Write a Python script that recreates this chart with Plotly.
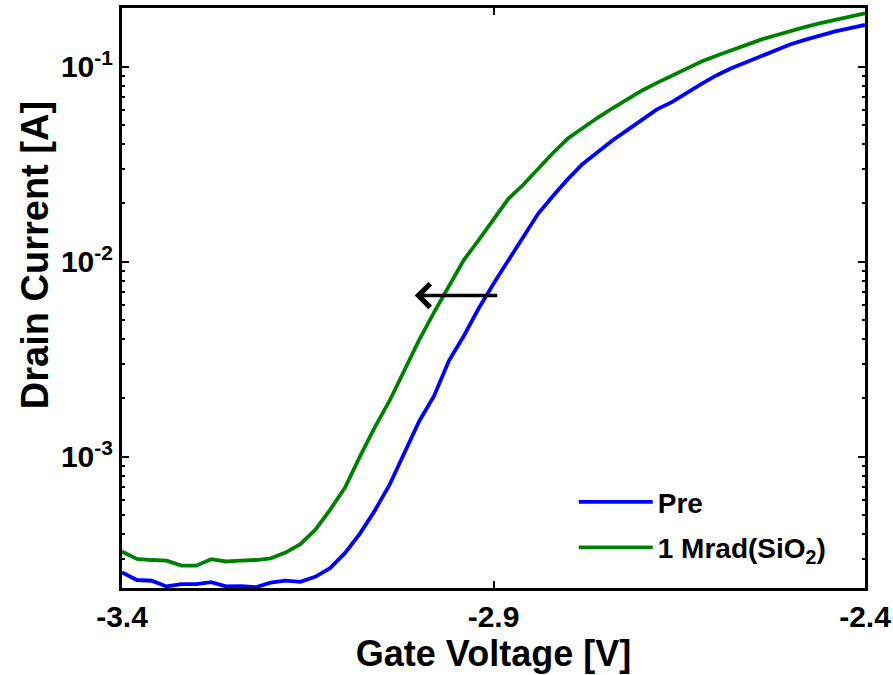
import math
import plotly.graph_objects as go

# Gate voltage [V]
gate_voltage = [-3.40, -3.38, -3.36, -3.34, -3.32, -3.30, -3.28, -3.26, -3.24, -3.22,
                -3.20, -3.18, -3.16, -3.14, -3.12, -3.10, -3.08, -3.06, -3.04, -3.02,
                -3.00, -2.98, -2.96, -2.94, -2.92, -2.90, -2.88, -2.86, -2.84, -2.82,
                -2.80, -2.78, -2.76, -2.74, -2.72, -2.70, -2.68, -2.66, -2.64, -2.62,
                -2.60, -2.58, -2.56, -2.54, -2.52, -2.50, -2.48, -2.46, -2.44, -2.42,
                -2.40]

# Drain current [A], pre-irradiation
current_pre = [2.55e-4, 2.33e-4, 2.31e-4, 2.16e-4, 2.22e-4, 2.22e-4, 2.27e-4, 2.16e-4, 2.17e-4, 2.14e-4,
               2.26e-4, 2.31e-4, 2.28e-4, 2.42e-4, 2.68e-4, 3.20e-4, 4.02e-4, 5.27e-4, 7.16e-4, 1.04e-3,
               1.52e-3, 2.05e-3, 3.10e-3, 4.16e-3, 5.75e-3, 7.71e-3, 1.02e-2, 1.34e-2, 1.76e-2, 2.17e-2,
               2.65e-2, 3.17e-2, 3.66e-2, 4.18e-2, 4.73e-2, 5.36e-2, 6.04e-2, 6.58e-2, 7.36e-2, 8.17e-2,
               9.02e-2, 9.82e-2, 0.1054, 0.1130, 0.1213, 0.1303, 0.1377, 0.1452, 0.1517, 0.1578,
               0.1637]

# Drain current [A], after 1 Mrad(SiO2)
current_1mrad = [3.26e-4, 2.99e-4, 2.95e-4, 2.93e-4, 2.76e-4, 2.76e-4, 2.98e-4, 2.90e-4, 2.93e-4, 2.95e-4,
                 3.01e-4, 3.22e-4, 3.56e-4, 4.21e-4, 5.33e-4, 6.92e-4, 9.98e-4, 1.41e-3, 1.93e-3, 2.79e-3,
                 3.97e-3, 5.50e-3, 7.50e-3, 1.02e-2, 1.29e-2, 1.64e-2, 2.10e-2, 2.48e-2, 2.99e-2, 3.61e-2,
                 4.28e-2, 4.85e-2, 5.47e-2, 6.12e-2, 6.79e-2, 7.55e-2, 8.26e-2, 8.97e-2, 9.82e-2, 0.1062,
                 0.1138, 0.1216, 0.1294, 0.1377, 0.1449, 0.1528, 0.1600, 0.1671, 0.1742, 0.1807,
                 0.1879]

series_names = ["Pre", "1 Mrad(SiO<sub>2</sub>)"]
series_colors = ["#0000FF", "#008000"]

x_tickvals = [-3.4, -2.9, -2.4]
x_ticktext = ["-3.4", "-2.9", "-2.4"]
y_tickvals = [1e-3, 1e-2, 1e-1]
y_ticktext = ["10<sup>-3</sup>", "10<sup>-2</sup>", "10<sup>-1</sup>"]
y_minor = [m * 10.0 ** e for e in (-4, -3, -2, -1) for m in range(2, 10)]

# shift arrow (annotation): from tail to head at a fixed current level
arrow_current = 6.7e-3
arrow_tail_v = -2.893
arrow_head_v = -3.006

FONT = "Arial, Liberation Sans, sans-serif"

fig = go.Figure()
for i, (name, ys, col) in enumerate(zip(series_names, [current_pre, current_1mrad], series_colors)):
    fig.add_trace(go.Scatter(x=gate_voltage, y=ys, mode="lines", name=name,
                             legendgroup="g%d" % i,
                             line=dict(color=col, width=3.8)))

fig.add_annotation(x=arrow_head_v, y=math.log10(arrow_current),
                   ax=arrow_tail_v, ay=math.log10(arrow_current),
                   xref="x", yref="y", axref="x", ayref="y",
                   text="", showarrow=True, arrowhead=4, arrowsize=1.3,
                   arrowwidth=3.5, arrowcolor="black")

# y-axis title as rotated text (sits slightly above the plot centre in the reference)
fig.add_annotation(text="Drain Current [A]", textangle=-90,
                   xref="paper", yref="paper", x=-0.117, y=0.574,
                   xanchor="center", yanchor="middle", showarrow=False,
                   font=dict(family=FONT, size=38, color="black", weight="bold"))

axis_common = dict(showline=True, linecolor="black", linewidth=3, mirror="ticks",
                   ticks="inside", tickcolor="black", tickwidth=2, ticklen=7,
                   showgrid=False, zeroline=False, automargin=False,
                   tickfont=dict(family=FONT, size=30, color="black", weight="bold"))

fig.update_xaxes(range=[-3.4, -2.4], tickvals=x_tickvals, ticktext=x_ticktext,
                 title_text="Gate Voltage [V]", title_standoff=2,
                 title_font=dict(family=FONT, size=36, color="black", weight="bold"),
                 **axis_common)
fig.update_yaxes(type="log", range=[math.log10(2.12e-4), math.log10(0.2)],
                 tickvals=y_tickvals, ticktext=y_ticktext,
                 minor=dict(ticks="inside", ticklen=3, tickwidth=1.5, tickcolor="black",
                            tickvals=y_minor, showgrid=False),
                 **axis_common)

fig.update_layout(
    width=893, height=675,
    margin=dict(l=122, r=28, t=8, b=87),
    plot_bgcolor="white", paper_bgcolor="white",
    font=dict(family=FONT, color="black"),
    legend=dict(x=0.608, y=0.191, xanchor="left", yanchor="top",
                bgcolor="rgba(0,0,0,0)", borderwidth=0,
                font=dict(family=FONT, size=28, color="black", weight="bold"),
                itemwidth=74, tracegroupgap=6),
    showlegend=True,
)

fig.write_html("out.html")
